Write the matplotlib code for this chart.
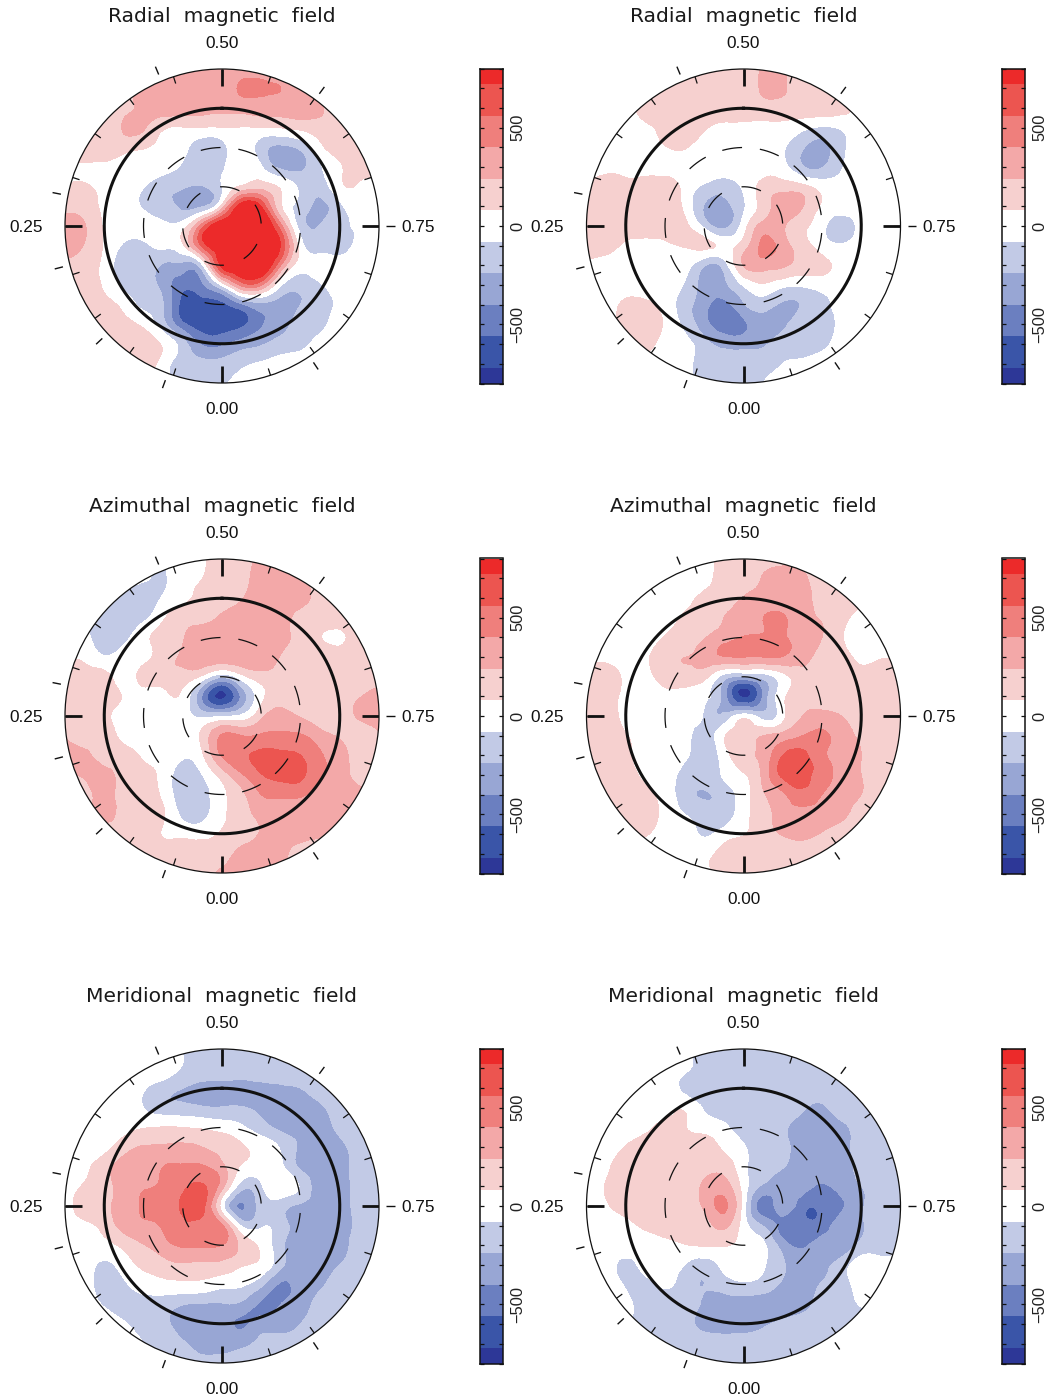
import numpy as np
import matplotlib
matplotlib.use("Agg")
import matplotlib.pyplot as plt
from matplotlib.colors import ListedColormap, BoundaryNorm
from matplotlib.patches import Circle
from matplotlib.tri import Triangulation, UniformTriRefiner

W, H = 1047, 1399

# field in gauss, read on a 15 degree grid over the polar map, top row first
radial_a = [
    [100, 100, 100, 100, 100, 200, 250, 280, 300, 320, 350, 320, 300, 200, 150, 100, 100],
    [170, 170, 170, 200, 280, 320, 320, 320, 320, 420, 420, 400, 300, 200, 170, 170, 170],
    [170, 170, 170, 200, 280, 330, 320, 300, 280, 300, 320, 320, 320, 260, 170, 170, 170],
    [170, 170, 100, 260, 260, 100, 70, 70, 70, 70, 70, 80, 120, 170, 170, 170, 170],
    [170, 170, 170, 130, 90, 40, -40, -170, -130, 0, -160, -280, -200, 30, 170, 170, 170],
    [60, 60, 40, 30, 20, -20, -100, -170, -110, 30, -60, -280, -280, -100, 60, 130, 130],
    [100, 100, 40, 20, -70, -170, -220, -250, -80, 110, 180, 60, -120, -170, 40, 60, 60],
    [200, 170, 50, 20, -100, -180, -280, -250, 150, 850, 720, 100, -150, -280, -120, 0, 40],
    [300, 250, 60, 10, 10, -30, 10, 500, 900, 950, 950, 450, -150, -230, -130, -60, 0],
    [300, 230, 60, -100, -120, -40, 60, 600, 900, 1000, 1000, 700, 0, -170, -170, -30, 0],
    [200, 160, 30, -170, -180, -260, -300, -100, 780, 950, 950, 400, 0, 20, 30, 30, 30],
    [100, 100, 60, -120, -180, -300, -500, -420, -40, 450, 420, -60, -190, -100, 20, 20, 20],
    [120, 120, 120, 30, -120, -240, -620, -640, -600, -420, -280, -300, -240, -170, -40, 0, 0],
    [170, 170, 170, 130, 40, -180, -520, -650, -660, -600, -420, -290, -200, -130, 0, 0, 0],
    [170, 170, 170, 230, 170, 60, -170, -420, -430, -330, -260, -180, -130, -20, 0, 0, 0],
    [170, 170, 170, 170, 170, 10, -170, -200, -190, -120, -60, -20, 0, 0, 0, 0, 0],
    [170, 170, 170, 170, 100, 0, -100, -120, -100, 0, 120, 0, 0, 0, 0, 0, 0],
]
radial_b = [
    [60, 60, 60, 60, 100, 120, 150, 150, 150, 260, 260, 150, 100, 60, 60, 60, 60],
    [60, 60, 60, 100, 120, 150, 170, 170, 170, 260, 260, 170, 150, 100, 60, 60, 60],
    [40, 40, 50, 130, 170, 170, 170, 170, 170, 170, 170, 170, 170, 130, 60, 40, 40],
    [30, 30, 30, 60, 120, 170, 100, 40, 40, 40, 30, -40, -100, -60, 20, 20, 20],
    [20, 20, 20, 30, 70, 90, 30, 10, 10, 10, -60, -220, -300, -120, -10, 20, 20],
    [20, 20, 10, 10, 10, 20, 30, 10, 10, 10, -30, -220, -250, -90, 0, 10, 10],
    [60, 190, 150, 160, 170, 30, -110, -170, -50, 130, 170, 130, 20, 0, 0, 0, 0],
    [170, 180, 180, 170, 170, 40, -250, -300, -100, 150, 320, 250, 60, 10, 0, 0, 0],
    [170, 180, 170, 170, 170, 130, -120, -290, 0, 300, 260, 120, -30, -170, -30, 0, 0],
    [170, 130, 50, 20, 40, 90, 120, 40, 160, 440, 320, 150, 10, -60, 0, 0, 0],
    [30, 30, 10, 10, 10, 0, -220, -170, 250, 320, 270, 170, 120, 30, 0, 0, 0],
    [0, 0, 0, 0, 0, -100, -300, -280, -60, 60, -30, -50, -10, 0, 0, 0, 0],
    [0, 0, 120, 120, 20, -170, -340, -450, -260, -170, -260, -230, -130, -30, 0, 0, 0],
    [0, 0, 150, 190, 60, -120, -340, -480, -430, -300, -270, -170, -160, -30, 0, 0, 0],
    [0, 0, 100, 130, 30, -30, -180, -290, -300, -260, -170, -170, -130, -10, 0, 0, 0],
    [0, 0, 0, 50, 0, -20, -170, -170, -170, -150, -80, -40, 10, 0, 0, 0, 0],
    [0, 0, 0, 0, 0, -20, -170, -170, -170, -80, -30, 0, 0, 0, 0, 0, 0],
]
azimuthal_a = [
    [0, 0, 0, 0, -60, -60, 0, 60, 170, 200, 280, 300, 300, 170, 170, 170, 170],
    [0, 0, 0, -60, -60, -100, 30, 80, 170, 200, 300, 320, 300, 170, 170, 170, 170],
    [-60, -60, -120, -120, -170, -60, 40, 130, 170, 230, 320, 320, 300, 170, 170, 170, 170],
    [-100, -100, -120, -170, -120, 60, 170, 200, 260, 300, 320, 320, 170, 150, 170, 170, 170],
    [-40, -40, -170, -130, 30, 150, 230, 320, 320, 320, 320, 300, 170, 90, 50, 170, 170],
    [50, 50, -60, 0, 40, 170, 260, 320, 330, 330, 320, 230, 170, 170, 160, 170, 170],
    [100, 130, 130, 30, 120, 170, 170, 40, -200, 20, 170, 170, 170, 170, 170, 170, 170],
    [170, 170, 170, 70, 20, 20, 40, -420, -760, -360, 30, 170, 170, 170, 170, 230, 300],
    [170, 170, 120, 20, 0, 0, 0, -120, -100, -40, 200, 300, 230, 170, 170, 260, 300],
    [240, 170, 150, 40, 10, 0, 0, 120, 420, 400, 420, 430, 420, 300, 220, 170, 230],
    [260, 270, 170, 130, 60, 0, -60, 60, 420, 540, 600, 600, 560, 420, 300, 170, 170],
    [260, 260, 300, 170, 130, 20, -160, -80, 150, 380, 550, 620, 600, 420, 320, 170, 170],
    [170, 170, 300, 170, 170, 40, -170, -150, 40, 200, 400, 430, 430, 320, 310, 300, 300],
    [170, 170, 300, 170, 170, 100, -120, -130, 40, 170, 290, 330, 300, 290, 300, 300, 300],
    [170, 170, 170, 180, 170, 70, 40, 30, 100, 170, 250, 300, 300, 260, 260, 260, 260],
    [170, 170, 170, 170, 170, 170, 170, 150, 170, 280, 300, 290, 150, 170, 170, 170, 170],
    [170, 170, 170, 170, 170, 170, 170, 170, 280, 290, 290, 290, 170, 170, 170, 170, 170],
]
azimuthal_b = [
    [0, 0, 0, 0, 0, 10, 30, 130, 170, 170, 170, 170, 170, 170, 60, 60, 60],
    [0, 0, 0, 0, 0, 10, 30, 140, 170, 250, 300, 270, 170, 170, 100, 60, 60],
    [0, 0, 0, 0, 0, 30, 120, 170, 250, 300, 310, 300, 170, 170, 100, 60, 60],
    [0, 0, 0, 0, 20, 100, 170, 240, 330, 400, 420, 300, 220, 120, 40, 40, 40],
    [0, 0, 0, 20, 90, 170, 230, 330, 410, 420, 420, 330, 240, 90, 40, 40, 40],
    [40, 40, 20, 60, 170, 240, 300, 390, 400, 400, 390, 300, 170, 120, 50, 70, 70],
    [170, 170, 50, 40, 130, 170, 130, -150, -260, -170, 20, 170, 170, 170, 140, 170, 170],
    [170, 170, 30, 10, 40, 20, -40, -320, -750, -380, 40, 170, 170, 170, 170, 170, 170],
    [170, 170, 30, 0, 0, 0, -100, -200, 0, -160, 30, 240, 290, 240, 170, 170, 170],
    [170, 170, 90, 10, 0, 0, -170, 60, 170, 240, 300, 400, 430, 320, 210, 170, 170],
    [170, 170, 120, 0, 0, -40, -170, 0, 180, 300, 560, 600, 440, 320, 240, 170, 170],
    [170, 170, 140, 50, 0, -140, -170, -60, 60, 280, 600, 600, 500, 320, 240, 170, 170],
    [170, 170, 170, 120, 10, -170, -250, -170, 0, 220, 370, 520, 400, 300, 240, 170, 170],
    [170, 170, 170, 170, 30, -80, -170, -180, 20, 170, 300, 330, 320, 280, 170, 170, 170],
    [100, 100, 100, 100, 10, 0, -100, -10, 70, 170, 250, 270, 230, 170, 170, 170, 170],
    [0, 0, 0, 0, 0, 10, 30, 130, 170, 170, 170, 170, 170, 170, 170, 170, 170],
    [0, 0, 0, 0, 0, 10, 30, 130, 170, 170, 170, 170, 170, 170, 170, 170, 170],
]
meridional_a = [
    [0, 0, 0, 0, 30, 30, -100, -170, -170, -170, -170, -170, -170, -170, -170, -170, -170],
    [0, 0, 0, 0, 30, 30, -100, -170, -180, -180, -170, -170, -150, -170, -170, -170, -170],
    [0, 0, 0, 40, -60, -170, -240, -280, -280, -280, -270, -260, -240, -170, -170, -170, -170],
    [0, 0, 0, 20, -80, -170, -190, -220, -230, -230, -270, -320, -320, -270, -170, -170, -170],
    [0, 0, 10, 30, 70, 90, 80, 60, 20, -50, -170, -280, -320, -310, -210, -170, -170],
    [0, 20, 30, 170, 250, 260, 270, 240, 180, 100, 30, -100, -270, -320, -280, -170, -170],
    [0, 50, 170, 300, 300, 400, 420, 420, 280, 60, 30, -40, -270, -320, -300, -170, -170],
    [0, 100, 190, 300, 380, 420, 520, 580, 300, -170, -100, 40, -100, -320, -320, -170, -170],
    [10, 160, 220, 300, 420, 480, 600, 620, 0, -420, -170, -170, -270, -320, -320, -170, -170],
    [0, 40, 140, 300, 370, 420, 520, 520, 420, -100, -100, -170, -300, -320, -320, -190, -170],
    [0, 0, 30, 120, 230, 340, 420, 420, 400, 200, 40, -200, -320, -320, -300, -170, -170],
    [0, 0, -110, 0, 100, 170, 220, 200, 190, 100, 40, -200, -330, -320, -240, -170, -170],
    [0, 0, -170, -120, 10, 30, 40, 30, -30, -60, -200, -420, -320, -260, -170, -170, -170],
    [0, 0, -100, -170, -170, -170, -230, -250, -250, -280, -420, -400, -300, -200, -170, -170, -170],
    [0, 0, 0, -60, -170, -200, -320, -320, -330, -420, -330, -320, -240, -170, -170, -170, -170],
    [0, 0, 0, 0, -80, -170, -220, -300, -300, -280, -200, -170, -170, -170, -170, -170, -170],
    [0, 0, 0, 0, -80, -170, -170, -170, -170, -170, -170, -170, -170, -170, -170, -170, -170],
]
meridional_b = [
    [0, 0, 0, 0, 0, -40, -170, -170, -170, -170, -170, -170, -170, -170, -170, -170, -170],
    [0, 0, 0, 0, 0, -40, -170, -170, -170, -170, -170, -170, -170, -170, -170, -170, -170],
    [0, 0, 0, 0, 10, -120, -170, -170, -170, -170, -170, -170, -170, -170, -170, -170, -170],
    [0, 0, 0, 0, 20, 60, -100, -170, -170, -170, -170, -220, -260, -170, -170, -170, -170],
    [0, 0, 10, 40, 140, 90, 30, -40, -170, -170, -210, -300, -310, -280, -170, -170, -170],
    [0, 20, 90, 170, 170, 170, 140, 60, -60, -170, -200, -310, -320, -300, -170, -170, -170],
    [0, 50, 170, 170, 170, 170, 180, 170, -30, -170, -230, -320, -320, -310, -190, -170, -170],
    [0, 90, 170, 170, 170, 170, 270, 320, 10, -270, -300, -330, -420, -330, -240, -170, -170],
    [0, 60, 150, 170, 170, 170, 270, 430, 0, -480, -320, -500, -520, -420, -260, -170, -170],
    [0, 0, 30, 110, 160, 170, 170, 280, 0, -250, -460, -520, -480, -320, -250, -170, -170],
    [0, 0, 0, 10, 30, 70, 90, 90, 50, -50, -320, -420, -330, -320, -200, -170, -170],
    [0, 0, -120, -20, 10, -80, -160, -30, 30, -60, -220, -320, -280, -170, 30, 0, 0],
    [0, 0, -100, -140, -50, -170, -240, -170, -110, -150, -270, -320, -230, -170, 20, 0, 0],
    [0, 0, -30, -170, -170, -170, -260, -310, -320, -320, -320, -300, -180, -170, -60, -60, -60],
    [0, 0, -30, -170, -170, -190, -280, -320, -320, -270, -210, -170, -170, -170, -170, -170, -170],
    [0, 0, 0, -120, -120, -170, -170, -170, -170, -170, -170, -170, -170, -170, -170, -170, -170],
    [0, 0, 0, -120, -120, -170, -170, -170, -170, -170, -170, -170, -170, -170, -170, -170, -170],
]

titles = ["Radial  magnetic  field", "Azimuthal  magnetic  field", "Meridional  magnetic  field"]
fields = [[radial_a, radial_b], [azimuthal_a, azimuthal_b], [meridional_a, meridional_b]]
obs_phases = [0.056, 0.13, 0.21, 0.281, 0.437, 0.601, 0.75, 0.906]
grid_colat = np.arange(-120, 121, 15)

level_edges = [-5000, -720, -560, -400, -240, -80, 80, 240, 400, 560, 720, 5000]
band_colors = ["#2d3797", "#3a55a8", "#6b7fc0", "#98a6d4", "#c2cae6", "#ffffff",
               "#f6d0cf", "#f3a8a8", "#ef7f7c", "#ec5550", "#ec2a2a"]
cmap = ListedColormap(band_colors)
norm = BoundaryNorm(level_edges, cmap.N)

col_x = [222, 743.5]
row_y = [226, 716, 1206]
R_PX = 157

fig = plt.figure(figsize=(W / 100, H / 100), dpi=100)


def px_axes(x0, y0, x1, y1):
    return fig.add_axes([x0 / W, 1 - y1 / H, (x1 - x0) / W, (y1 - y0) / H])


def phase_xy(phase, r):
    a = 2 * np.pi * np.asarray(phase)
    return -r * np.sin(a), -r * np.cos(a)


def draw_map(ax, field, title):
    xx, yy = np.meshgrid(grid_colat, grid_colat[::-1])
    tri = Triangulation(xx.ravel(), yy.ravel())
    fine_tri, fine_z = UniformTriRefiner(tri).refine_field(np.array(field, dtype=float).ravel(), subdiv=3)
    ax.set_xlim(-120, 120)
    ax.set_ylim(-120, 120)
    ax.axis("off")
    filled = ax.tricontourf(fine_tri, fine_z, levels=level_edges, cmap=cmap, norm=norm)
    outer = Circle((0, 0), 120, fc="none", ec="#111111", lw=0.9, clip_on=False, zorder=5)
    ax.add_patch(outer)
    filled.set_clip_path(outer)
    ang = np.linspace(0, 2 * np.pi, 400)
    ax.plot(90 * np.sin(ang), 90 * np.cos(ang), color="#111111", lw=2.2, zorder=6)
    # dashed rings: 30 deg has 6 dashes, 60 deg has 13
    for r, start, pattern in [(30, -0.05, (16, 16.9)), (60, 0.21, (16, 14.35))]:
        ax.plot(r * np.sin(ang + start), r * np.cos(ang + start), color="#111111", lw=0.9,
                ls=(0, pattern), zorder=6)
    for ph in np.arange(0, 1, 0.05):
        x0, y0 = phase_xy(ph, 120)
        x1, y1 = phase_xy(ph, 114.5)
        ax.plot([x0, x1], [y0, y1], color="#111111", lw=0.9, zorder=6, solid_capstyle="butt")
    for ph in [0, 0.25, 0.5, 0.75]:
        x0, y0 = phase_xy(ph, 120)
        x1, y1 = phase_xy(ph, 107)
        ax.plot([x0, x1], [y0, y1], color="#111111", lw=2, zorder=7, solid_capstyle="butt")
    for ph in obs_phases:
        x0, y0 = phase_xy(ph, 125.5)
        x1, y1 = phase_xy(ph, 132)
        ax.plot([x0, x1], [y0, y1], color="#111111", lw=1, clip_on=False, solid_capstyle="butt")
    k = 120 / R_PX
    lab = dict(family="Liberation Sans", fontsize=12.4, color="#111111", ha="center", va="center",
               clip_on=False)
    ax.text(0, 182.5 * k, "0.50", **lab)
    ax.text(0, -183.5 * k, "0.00", **lab)
    ax.text(-196 * k, -1 * k, "0.25", **lab)
    ax.text(196 * k, -1 * k, "0.75", **lab)
    ax.text(0, 210 * k, title, family="DejaVu Sans", fontsize=14.6, color="#1a1a1a", ha="center",
            va="center", clip_on=False)


def draw_bar(cax):
    edges = np.array([-800, -720, -560, -400, -240, -80, 80, 240, 400, 560, 720, 800])
    mids = (edges[:-1] + edges[1:]) / 2
    cax.pcolormesh([0, 1], edges, mids[:, None], cmap=cmap, norm=norm)
    cax.set_xticks([])
    cax.set_ylim(-800, 800)
    cax.set_yticks(np.arange(-800, 801, 100))
    cax.set_yticklabels(["\u2212500" if v == -500 else str(v) if v in (0, 500) else ""
                         for v in np.arange(-800, 801, 100)],
                        rotation=90, va="center", family="Liberation Sans", fontsize=11.8, color="#222222")
    cax.tick_params(axis="y", direction="in", left=True, right=True, labelleft=False, labelright=True,
                    length=3, width=0.9, pad=5.5, color="#111111")
    for s in cax.spines.values():
        s.set_linewidth(1.1)
        s.set_color("#111111")


for i, cy in enumerate(row_y):
    for j, cx in enumerate(col_x):
        ax = px_axes(cx - R_PX, cy - R_PX, cx + R_PX, cy + R_PX)
        draw_map(ax, fields[i][j], titles[i])
        cax = px_axes(cx + 258, cy - 157.5, cx + 281, cy + 157.5)
        draw_bar(cax)

fig.savefig("out.png", dpi=100)
